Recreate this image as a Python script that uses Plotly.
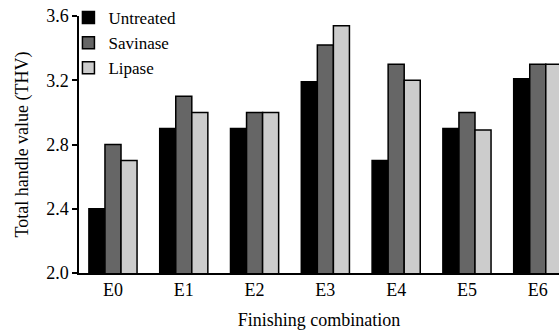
import plotly.graph_objects as go

categories = ["E0", "E1", "E2", "E3", "E4", "E5", "E6"]
untreated = [2.40, 2.90, 2.90, 3.19, 2.70, 2.90, 3.21]
savinase = [2.80, 3.10, 3.00, 3.42, 3.30, 3.00, 3.30]
lipase = [2.70, 3.00, 3.00, 3.54, 3.20, 2.89, 3.30]
series_names = ["Untreated", "Savinase", "Lipase"]
colors = ["#000000", "#666666", "#cccccc"]
y_ticks = [2.0, 2.4, 2.8, 3.2, 3.6]

fig = go.Figure()
for name, vals, c in zip(series_names, [untreated, savinase, lipase], colors):
    fig.add_trace(go.Bar(
        x=categories, y=vals, name=name,
        marker=dict(color=c, line=dict(color="#000000", width=1.5)),
    ))

font = "Liberation Serif, Times New Roman, serif"
fig.update_layout(
    width=559, height=331,
    margin=dict(l=79, r=0, t=16, b=58),
    paper_bgcolor="white", plot_bgcolor="white",
    barmode="group", bargap=0.32, bargroupgap=0,
    font=dict(family=font, size=18, color="#000000"),
    showlegend=True,
    legend=dict(x=-0.022, y=1.062, xanchor="left", yanchor="top",
                bgcolor="rgba(0,0,0,0)", font=dict(size=17),
                tracegroupgap=0, itemwidth=30),
    xaxis=dict(
        range=[-0.48, 6.30], showline=True, linecolor="#000000", linewidth=1.5,
        ticks="", showgrid=False,
        title=dict(text="Finishing combination", standoff=14, font=dict(size=18)),
        tickfont=dict(size=18),
    ),
    yaxis=dict(
        range=[2.0, 3.6], tickvals=y_ticks, ticktext=[f"{v:.1f}" for v in y_ticks],
        showline=True, linecolor="#000000", linewidth=1.5,
        ticks="outside", ticklen=5, tickwidth=2, tickcolor="#000000",
        showgrid=False, zeroline=False,
        title=dict(text="Total handle value (THV)", standoff=13, font=dict(size=18)),
        tickfont=dict(size=18),
    ),
)
fig.write_html("out.html", config={"displayModeBar": False},
               post_script="document.body.style.margin='0';document.body.style.overflow='hidden';")
